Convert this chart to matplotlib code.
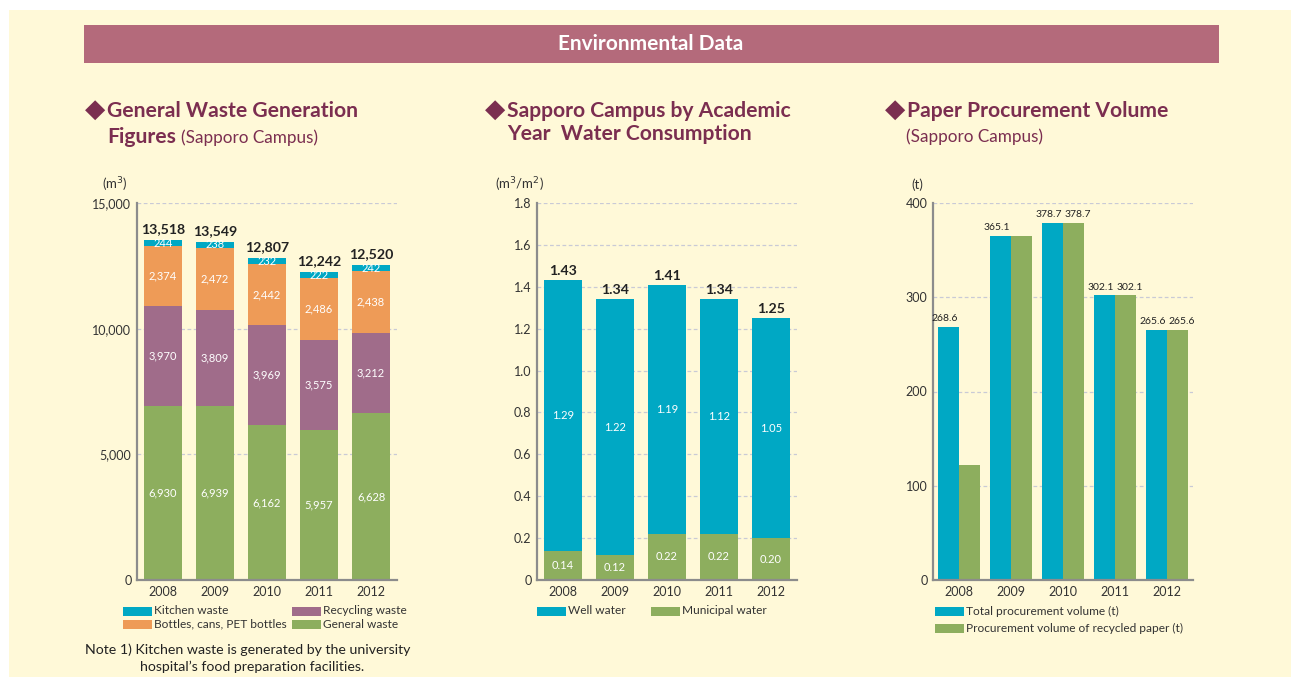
import matplotlib
matplotlib.use("Agg")
import matplotlib.pyplot as plt
import numpy as np
from matplotlib.patches import Rectangle

W, H = 1291, 677
FONT = ['Lato', 'DejaVu Sans']
plt.rcParams['font.family'] = FONT

# ---------------- data ----------------
years = ['2008', '2009', '2010', '2011', '2012']

general_waste = [6930, 6939, 6162, 5957, 6628]
recycling_waste = [3970, 3809, 3969, 3575, 3212]
bottles_waste = [2374, 2472, 2442, 2486, 2438]
kitchen_waste = [244, 238, 232, 222, 242]
waste_totals = [13518, 13549, 12807, 12242, 12520]
waste_ticks = [0, 5000, 10000, 15000]
waste_tick_labels = ['0', '5,000', '10,000', '15,000']

municipal_water = [0.14, 0.12, 0.22, 0.22, 0.20]
well_water = [1.29, 1.22, 1.19, 1.12, 1.05]
water_totals = [1.43, 1.34, 1.41, 1.34, 1.25]
water_ticks = [0, 0.2, 0.4, 0.6, 0.8, 1.0, 1.2, 1.4, 1.6, 1.8]
water_tick_labels = ['0', '0.2', '0.4', '0.6', '0.8', '1.0', '1.2', '1.4', '1.6', '1.8']

paper_total = [268.6, 365.1, 378.7, 302.1, 265.6]
paper_recycled = [122.0, 365.1, 378.7, 302.1, 265.6]
paper_total_labels = ['268.6', '365.1', '378.7', '302.1', '265.6']
paper_recycled_labels = ['', '', '378.7', '302.1', '265.6']
paper_ticks = [0, 100, 200, 300, 400]

# ---------------- colours ----------------
BG = '#FFF9D8'
BANNER = '#B46A7B'
TITLE_C = '#7B2E50'
CYAN = '#00A8C4'
ORANGE = '#EE9B57'
PURPLE = '#A06C8A'
GREEN = '#8DAE5E'
GRID = '#C9CAD6'
SPINE = '#8C8C8C'
TXT = '#333333'

fig = plt.figure(figsize=(W / 100, H / 100), dpi=100)
fig.patch.set_facecolor('white')


def fx(x):
    return x / W


def fy(y):
    return 1 - y / H


# yellow panel
fig.patches.append(Rectangle((fx(9), 0), 1 - fx(9), fy(10), transform=fig.transFigure,
                             facecolor=BG, edgecolor='none', zorder=-5))
# banner
fig.patches.append(Rectangle((fx(84), fy(63)), fx(1219) - fx(84), fy(25) - fy(63),
                             transform=fig.transFigure, facecolor=BANNER, edgecolor='none', zorder=-4))
fig.text(fx(651), fy(44), 'Environmental Data', color='white', fontsize=15, fontweight='bold',
         ha='center', va='center')


def title_line(x, y, bold, rest=None, size=15.2, diamond=False):
    if diamond:
        fig.text(fx(x - 22), fy(y - 7), '\u25C6', color=TITLE_C, fontsize=19,
                 ha='left', va='center', family=['DejaVu Sans'])
    t = fig.text(fx(x), fy(y), bold, color=TITLE_C, fontsize=size, fontweight='bold',
                 ha='left', va='baseline', family=FONT)
    if rest:
        fig.canvas.draw()
        bb = t.get_window_extent()
        fig.text(bb.x1 / W + fx(5), fy(y), rest, color=TITLE_C, fontsize=12.3,
                 ha='left', va='baseline')


# titles
title_line(107, 117, 'General Waste Generation', diamond=True)
title_line(107, 143, 'Figures', '(Sapporo Campus)')
title_line(507, 117, 'Sapporo Campus by Academic', diamond=True)
title_line(507, 140, 'Year  Water Consumption')
title_line(907, 117, 'Paper Procurement Volume', diamond=True)
fig.text(fx(906), fy(142), '(Sapporo Campus)', color=TITLE_C, fontsize=12.3, ha='left', va='baseline')


def make_ax(left, right, ticks, labels, ymax):
    ax = fig.add_axes([fx(left), fy(580), fx(right) - fx(left), fy(203) - fy(580)])
    ax.set_facecolor('none')
    ax.set_xlim(-0.5, 4.5)
    ax.set_ylim(0, ymax)
    ax.set_yticks(ticks)
    ax.set_yticklabels(labels)
    ax.set_xticks(range(5))
    ax.set_xticklabels(years)
    ax.tick_params(length=0, labelsize=9, colors=TXT, pad=4)
    for s in ['top', 'right']:
        ax.spines[s].set_visible(False)
    for s in ['left', 'bottom']:
        ax.spines[s].set_color(SPINE)
        ax.spines[s].set_linewidth(1.6)
    for t in ticks[1:]:
        ax.axhline(t, color=GRID, lw=0.9, ls=(0, (3, 2)), zorder=0)
    return ax


x = np.arange(5)
BW = 0.73

# ---------------- chart 1 ----------------
ax1 = make_ax(137, 397, waste_ticks, waste_tick_labels, 15000)
bottom = np.zeros(5)
for vals, col in [(general_waste, GREEN), (recycling_waste, PURPLE),
                  (bottles_waste, ORANGE), (kitchen_waste, CYAN)]:
    ax1.bar(x, vals, BW, bottom=bottom, color=col, zorder=2)
    for i, v in enumerate(vals):
        ax1.text(x[i], bottom[i] + v / 2, f'{v:,}', color='white', fontsize=8,
                 ha='center', va='center', zorder=3)
    bottom += np.array(vals)
for i, t in enumerate(waste_totals):
    ax1.text(x[i], bottom[i] + 200, f'{t:,}', color='#222222', fontsize=10.2,
             fontweight='bold', ha='center', va='bottom')
fig.text(fx(102), fy(185), '(m$^3$)', color=TXT, fontsize=9.5, ha='left', va='center')

# ---------------- chart 2 ----------------
ax2 = make_ax(537, 797, water_ticks, water_tick_labels, 1.8)
ax2.bar(x, municipal_water, BW, color=GREEN, zorder=2)
ax2.bar(x, well_water, BW, bottom=municipal_water, color=CYAN, zorder=2)
for i in range(5):
    ax2.text(x[i], municipal_water[i] / 2, f'{municipal_water[i]:.2f}', color='white',
             fontsize=8, ha='center', va='center', zorder=3)
    ax2.text(x[i], municipal_water[i] + well_water[i] / 2, f'{well_water[i]:.2f}', color='white',
             fontsize=8, ha='center', va='center', zorder=3)
    ax2.text(x[i], water_totals[i] + 0.015, f'{water_totals[i]:.2f}', color='#222222',
             fontsize=10.2, fontweight='bold', ha='center', va='bottom')
fig.text(fx(495), fy(185), '(m$^3$/m$^2$)', color=TXT, fontsize=9.5, ha='left', va='center')

# ---------------- chart 3 ----------------
ax3 = make_ax(933, 1193, paper_ticks, [str(t) for t in paper_ticks], 400)
PW = 0.4
SH = 0.08
ax3.bar(x - PW / 2, paper_total, PW, color=CYAN, zorder=2)
ax3.bar(x + PW / 2, paper_recycled, PW, color=GREEN, zorder=2)
for i in range(5):
    if paper_total_labels[i]:
        ax3.text(x[i] - PW / 2 - SH, paper_total[i] + 4, paper_total_labels[i], color='#222222',
                 fontsize=7.5, ha='center', va='bottom')
    if paper_recycled_labels[i]:
        ax3.text(x[i] + PW / 2 + SH, paper_recycled[i] + 4, paper_recycled_labels[i], color='#222222',
                 fontsize=7.5, ha='center', va='bottom')
fig.text(fx(911), fy(185), '(t)', color=TXT, fontsize=9.5, ha='left', va='center')


# ---------------- legends ----------------
def legend_item(xp, yp, col, label):
    fig.patches.append(Rectangle((fx(xp), fy(yp + 5)), fx(29), 9 / H, transform=fig.transFigure,
                                 facecolor=col, edgecolor='none', zorder=2))
    fig.text(fx(xp + 31), fy(yp), label, color=TXT, fontsize=8.6, ha='left', va='center')


legend_item(123, 611, CYAN, 'Kitchen waste')
legend_item(292, 611, PURPLE, 'Recycling waste')
legend_item(123, 624, ORANGE, 'Bottles, cans, PET bottles')
legend_item(292, 624, GREEN, 'General waste')

legend_item(537, 611, CYAN, 'Well water')
legend_item(651, 611, GREEN, 'Municipal water')

legend_item(935, 611, CYAN, 'Total procurement volume (t)')
legend_item(935, 628, GREEN, 'Procurement volume of recycled paper (t)')

fig.text(fx(85), fy(650), 'Note 1) Kitchen waste is generated by the university',
         color='#222222', fontsize=10.2, ha='left', va='center')
fig.text(fx(252), fy(667), 'hospital\u2019s food preparation facilities.',
         color='#222222', fontsize=10.2, ha='center', va='center')

fig.savefig('out.png', dpi=100, facecolor=fig.get_facecolor())
